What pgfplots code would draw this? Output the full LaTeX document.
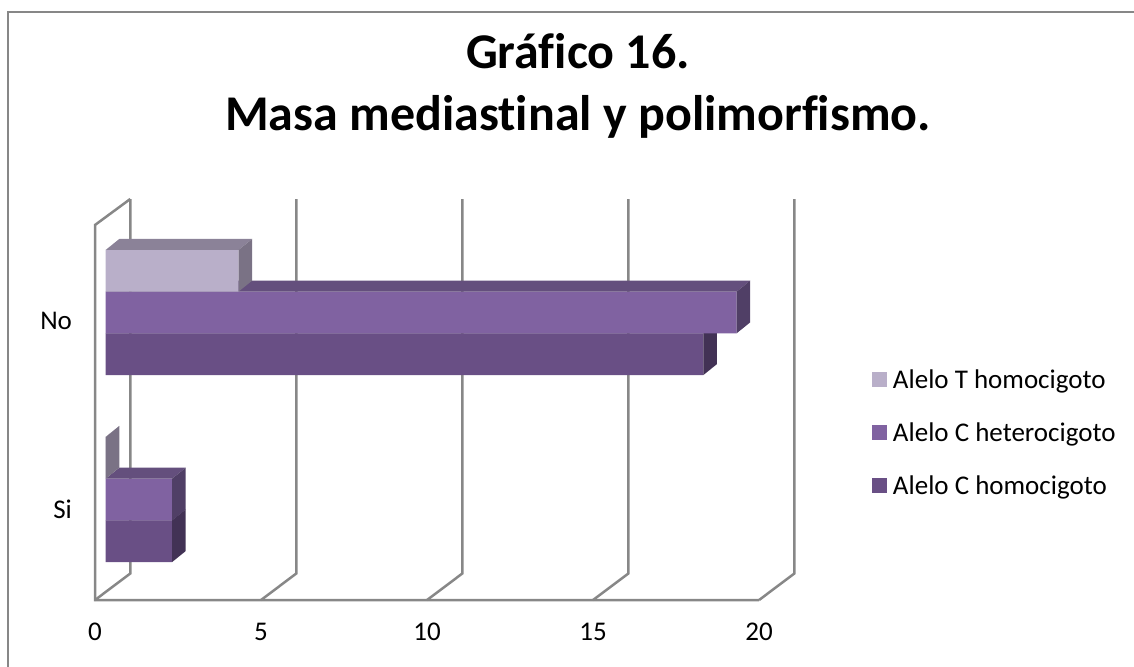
\documentclass[border=0pt]{standalone}
\usepackage{fontspec}
\setmainfont{Carlito}[Ligatures=NoCommon]
\usepackage{pgfplots}
\usepackage{pgfplotstable}
\pgfplotsset{compat=1.18}

\definecolor{tF}{RGB}{185,175,201}
\definecolor{tT}{RGB}{139,130,152}
\definecolor{tS}{RGB}{122,114,133}
\definecolor{hF}{RGB}{128,98,161}
\definecolor{hT}{RGB}{100,79,125}
\definecolor{hS}{RGB}{80,63,102}
\definecolor{cF}{RGB}{105,79,133}
\definecolor{cT}{RGB}{84,63,106}
\definecolor{cS}{RGB}{66,50,85}
\definecolor{gridc}{RGB}{135,135,135}

\pgfplotstableread{
cat y Thom Chet Chom
No 1 4 19 18
Si 0 0 2 2
}\datatable

% bar geometry (axis units)
\def\hw{0.1115}
\def\dx{0.41}
\def\dy{0.0588}
% top and side faces of one 3D bar, value read from the table
\newcommand\barfaces[5]{%
  \pgfplotstablegetelem{#1}{#2}\of\datatable
  \let\val\pgfplotsretval
  \pgfmathsetmacro\xe{\val+\dx}%
  \pgfmathsetmacro\yl{#3-\hw}%
  \pgfmathsetmacro\yh{#3+\hw}%
  \pgfmathsetmacro\ylb{#3-\hw+\dy}%
  \pgfmathsetmacro\yhb{#3+\hw+\dy}%
  \addplot[fill=#4, draw=none, forget plot] coordinates {(0,\yh) (\val,\yh) (\xe,\yhb) (\dx,\yhb)};
  \addplot[fill=#5, draw=none, forget plot] coordinates {(\val,\yl) (\val,\yh) (\xe,\yhb) (\xe,\ylb)};
}

\begin{document}
\begin{tikzpicture}
\useasboundingbox (0,0) rectangle (567pt,333pt);
\draw[gridc, line width=1pt] (4pt,-10pt) rectangle (580pt,327pt);

\node[anchor=base, font=\fontsize{25}{30}\selectfont\bfseries] at (289pt,299pt) {Gráfico 16.};
\node[anchor=base, font=\fontsize{25}{30}\selectfont\bfseries] at (289pt,268pt) {Masa mediastinal y polimorfismo.};

\begin{axis}[
  scale only axis, width=350.5pt, height=200.5pt,
  at={(47.5pt,33pt)}, anchor=south west,
  xmin=-0.322, xmax=20.79, ymin=-0.5374, ymax=1.607,
  clip=false,
  axis line style={draw=none}, major tick length=0pt,
  xtick={-0.322,4.678,9.678,14.678,19.678}, xticklabels={0,5,10,15,20},
  ytick={-0.0508,0.9545}, yticklabels={Si,No},
  tick label style={font=\fontsize{13.5}{16}\selectfont},
  xticklabel style={yshift=-8pt},
  yticklabel style={xshift=-8pt},
  reverse legend,
  legend cell align=left,
  legend image code/.code={\fill[#1] (0pt,-2.5pt) rectangle (7.5pt,5pt);},
  legend style={draw=none, fill=none, inner sep=0pt, outer sep=0pt,
    at={(1.1084,0.4115)}, anchor=west, row sep=14pt,
    font=\fontsize{13.5}{16}\selectfont,
    nodes={inner sep=0pt, text height=9.5pt, text depth=3pt},
    /tikz/every odd column/.append style={column sep=3pt}},
]
% walls and floor
\addplot[gridc, line width=1.25pt, forget plot] coordinates {(19.678,-0.5374) (-0.322,-0.5374) (-0.322,1.468) (0.74,1.607)};
\addplot[gridc, line width=1.25pt, forget plot] coordinates {(-0.322,-0.5374) (0.74,-0.3957) (0.74,1.607)};
\addplot[gridc, line width=1.25pt, forget plot] coordinates {(4.678,-0.5374) (5.74,-0.3957) (5.74,1.607)};
\addplot[gridc, line width=1.25pt, forget plot] coordinates {(9.678,-0.5374) (10.74,-0.3957) (10.74,1.607)};
\addplot[gridc, line width=1.25pt, forget plot] coordinates {(14.678,-0.5374) (15.74,-0.3957) (15.74,1.607)};
\addplot[gridc, line width=1.25pt, forget plot] coordinates {(19.678,-0.5374) (20.74,-0.3957) (20.74,1.607)};

% Alelo C homocigoto
\addplot[xbar, bar width=0.223, bar shift=-0.223, fill=cF, draw=none] table[x=Chom, y=y] {\datatable};
\addlegendentry{Alelo C homocigoto}
\barfaces{0}{Chom}{0.777}{cT}{cS}
\barfaces{1}{Chom}{-0.223}{cT}{cS}
% Alelo C heterocigoto
\addplot[xbar, bar width=0.223, bar shift=0, fill=hF, draw=none] table[x=Chet, y=y] {\datatable};
\addlegendentry{Alelo C heterocigoto}
\barfaces{0}{Chet}{1}{hT}{hS}
\barfaces{1}{Chet}{0}{hT}{hS}
% Alelo T homocigoto
\addplot[xbar, bar width=0.223, bar shift=0.223, fill=tF, draw=none] table[x=Thom, y=y] {\datatable};
\addlegendentry{Alelo T homocigoto}
\barfaces{0}{Thom}{1.223}{tT}{tS}
\barfaces{1}{Thom}{0.223}{tT}{tS}
\end{axis}
\end{tikzpicture}
\end{document}
